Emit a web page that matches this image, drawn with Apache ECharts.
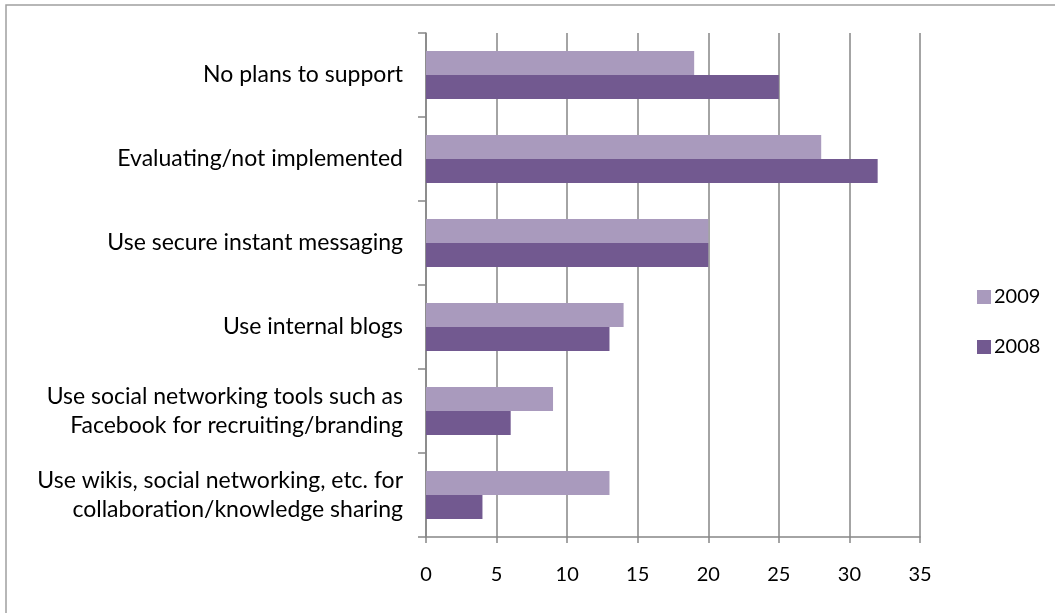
<!DOCTYPE html>
<html>
<head>
<meta charset="utf-8">
<script src="https://cdn.jsdelivr.net/npm/echarts@6/dist/echarts.min.js"></script>
<style>
html,body{margin:0;padding:0;background:#fff;}
#chart{width:1055px;height:613px;}
</style>
</head>
<body>
<div id="chart"></div>
<script>
// Categories listed bottom to top (as ECharts category y-axis draws them)
const categories = [
  "Use wikis, social networking, etc. for\ncollaboration/knowledge sharing",
  "Use social networking tools such as\nFacebook for recruiting/branding",
  "Use internal blogs",
  "Use secure instant messaging",
  "Evaluating/not implemented",
  "No plans to support"
];
const values2009 = [13, 9, 14, 20, 28, 19];
const values2008 = [4, 6, 13, 20, 32, 25];
const seriesNames = ["2009", "2008"];
const xTicks = { min: 0, max: 35, interval: 5 };

const FONT = "Lato";
const chart = echarts.init(document.getElementById('chart'), null, {renderer: 'canvas'});
chart.setOption({
  animation: false,
  backgroundColor: '#ffffff',
  graphic: [{
    type: 'rect',
    shape: {x: 6, y: 5, width: 1200, height: 800},
    style: {fill: 'none', stroke: '#a0a0a0', lineWidth: 1.5},
    silent: true, z: -10
  }],
  grid: {left: 426, right: 135, top: 33, bottom: 76, containLabel: false},
  legend: {
    orient: 'vertical',
    left: 972, top: 282,
    itemWidth: 14, itemHeight: 14, itemGap: 30,
    icon: 'rect',
    data: seriesNames,
    textStyle: {fontFamily: FONT, fontSize: 20, color: '#000', padding: [0,0,0,-2]}
  },
  xAxis: {
    type: 'value',
    min: xTicks.min, max: xTicks.max, interval: xTicks.interval,
    axisLine: {show: true, lineStyle: {color: '#868686', width: 1.5}},
    axisTick: {show: true, length: 6, lineStyle: {color: '#868686', width: 1.5}},
    axisLabel: {fontFamily: FONT, fontSize: 20, color: '#000', margin: 28},
    splitLine: {show: true, lineStyle: {color: '#868686', width: 1.5}}
  },
  yAxis: {
    type: 'category',
    data: categories,
    axisLine: {show: true, lineStyle: {color: '#868686', width: 1.5}},
    axisTick: {show: true, length: 8, lineStyle: {color: '#868686', width: 1.5}},
    axisLabel: {fontFamily: FONT, fontSize: 23, color: '#000', margin: 23, lineHeight: 29, align: 'right'},
    splitLine: {show: false}
  },
  series: [
    {name: seriesNames[0], type: 'bar', data: values2009, barGap: '0%', barCategoryGap: '43%',
     itemStyle: {color: '#a99abd'}},
    {name: seriesNames[1], type: 'bar', data: values2008, barGap: '0%', barCategoryGap: '43%',
     itemStyle: {color: '#725990'}}
  ]
});
</script>
</body>
</html>
